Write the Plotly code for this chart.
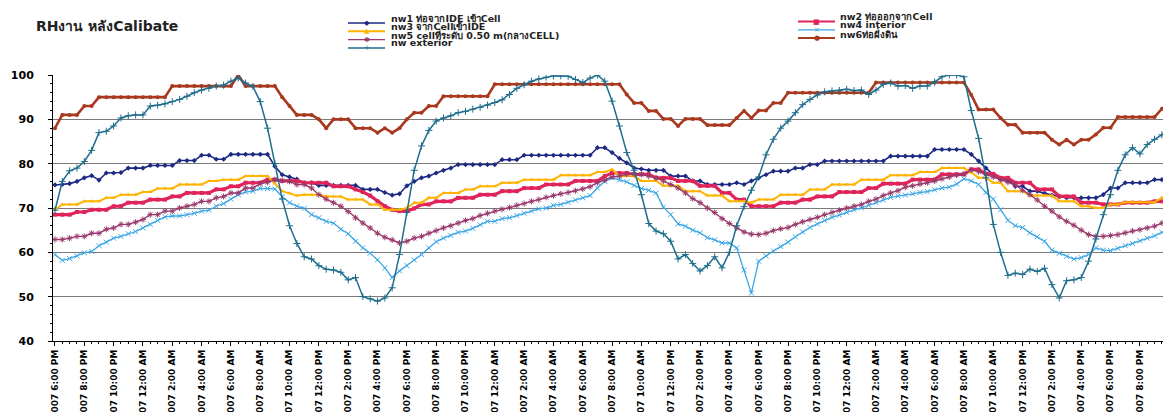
import plotly.graph_objects as go

# ------------------------------------------------------------
# DATA  (half-hourly readings, a label every 4th point)
# ------------------------------------------------------------
x_idx = list(range(153))
tick_pos = list(range(0, 153, 4))
tick_text = [
    "6/13/2007 6:00 PM", "6/13/2007 8:00 PM", "6/13/2007 10:00 PM",
    "6/14/2007 12:00 AM", "6/14/2007 2:00 AM", "6/14/2007 4:00 AM", "6/14/2007 6:00 AM",
    "6/14/2007 8:00 AM", "6/14/2007 10:00 AM", "6/14/2007 12:00 PM", "6/14/2007 2:00 PM",
    "6/14/2007 4:00 PM", "6/14/2007 6:00 PM", "6/14/2007 8:00 PM", "6/14/2007 10:00 PM",
    "6/15/2007 12:00 AM", "6/15/2007 2:00 AM", "6/15/2007 4:00 AM", "6/15/2007 6:00 AM",
    "6/15/2007 8:00 AM", "6/15/2007 10:00 AM", "6/15/2007 12:00 PM", "6/15/2007 2:00 PM",
    "6/15/2007 4:00 PM", "6/15/2007 6:00 PM", "6/15/2007 8:00 PM", "6/15/2007 10:00 PM",
    "6/16/2007 12:00 AM", "6/16/2007 2:00 AM", "6/16/2007 4:00 AM", "6/16/2007 6:00 AM",
    "6/16/2007 8:00 AM", "6/16/2007 10:00 AM", "6/16/2007 12:00 PM", "6/16/2007 2:00 PM",
    "6/16/2007 4:00 PM", "6/16/2007 6:00 PM", "6/16/2007 8:00 PM", "6/16/2007 10:00 PM",
]

nw1 = [
    75.2, 75.3, 75.5, 76.0, 76.8, 77.3, 76.3, 77.9, 77.9, 78.0,
    79.0, 79.0, 79.0, 79.6, 79.6, 79.6, 79.6, 80.7, 80.7, 80.7,
    81.9, 81.9, 81.0, 81.0, 82.1, 82.1, 82.1, 82.1, 82.1, 82.1,
    79.4, 77.5, 77.0, 76.5, 75.7, 75.7, 75.1, 75.1, 75.1, 75.1,
    75.1, 75.1, 74.2, 74.2, 74.2, 73.5, 72.9, 73.2, 75.0, 76.0,
    76.8, 77.2, 77.9, 78.5, 79.0, 79.8, 79.8, 79.8, 79.8, 79.8,
    79.8, 80.9, 80.9, 80.9, 81.9, 81.9, 81.9, 81.9, 81.9, 81.9,
    81.9, 81.9, 81.9, 81.9, 83.6, 83.6, 82.5, 81.2, 80.2, 79.0,
    78.8, 78.5, 78.5, 78.5, 77.2, 77.2, 77.2, 76.1, 76.1, 75.3,
    75.3, 75.3, 75.3, 75.7, 75.3, 76.1, 76.8, 77.5, 78.3, 78.3,
    78.3, 79.0, 79.0, 79.8, 79.8, 80.6, 80.6, 80.6, 80.6, 80.6,
    80.6, 80.6, 80.6, 80.6, 81.7, 81.7, 81.7, 81.7, 81.7, 81.7,
    83.2, 83.2, 83.2, 83.2, 83.2, 82.1, 80.6, 79.0, 77.5, 76.4,
    76.4, 74.9, 74.9, 73.8, 73.8, 73.3, 72.9, 72.6, 72.3, 72.3,
    72.3, 72.3, 72.3, 73.0, 74.5, 74.5, 75.7, 75.7, 75.7, 75.7,
    76.4, 76.4, 76.4,
]

nw2 = [
    68.5, 68.5, 68.5, 69.1, 69.1, 69.6, 69.6, 69.6, 70.4, 70.4,
    71.2, 71.2, 71.2, 71.9, 71.9, 71.9, 72.6, 72.6, 73.4, 73.4,
    73.4, 73.4, 74.2, 74.2, 74.9, 74.9, 75.7, 75.7, 75.7, 76.4,
    76.4, 76.1, 76.1, 76.1, 75.7, 75.7, 75.7, 75.7, 74.9, 74.9,
    74.9, 74.2, 73.6, 72.8, 71.5, 70.4, 69.6, 69.3, 69.3, 69.9,
    70.8, 70.8, 71.5, 71.5, 71.5, 72.3, 72.3, 72.3, 73.0, 73.0,
    73.0, 73.8, 73.8, 73.8, 74.5, 74.5, 74.5, 75.3, 75.3, 75.3,
    75.3, 76.1, 76.1, 76.1, 76.1, 77.2, 77.9, 77.9, 77.9, 77.6,
    77.6, 77.6, 76.8, 76.8, 76.8, 76.1, 76.1, 76.1, 75.0, 75.0,
    75.0, 73.4, 73.4, 71.9, 71.9, 70.4, 70.4, 70.4, 70.4, 71.2,
    71.2, 71.2, 71.9, 71.9, 72.6, 72.6, 72.6, 73.6, 73.6, 73.6,
    73.6, 74.5, 74.5, 75.5, 75.5, 75.5, 75.5, 76.4, 76.4, 76.4,
    76.4, 77.6, 77.6, 77.6, 77.6, 78.7, 78.7, 77.7, 77.7, 76.8,
    76.8, 75.7, 75.7, 75.7, 74.2, 74.2, 74.2, 72.6, 72.6, 72.6,
    71.2, 71.2, 71.2, 70.8, 70.8, 70.8, 71.2, 71.2, 71.2, 71.2,
    71.5, 71.5, 71.5,
]

nw3 = [
    69.6, 70.8, 70.8, 70.8, 71.5, 71.5, 71.5, 72.3, 72.3, 73.0,
    73.0, 73.0, 73.6, 73.6, 74.4, 74.4, 74.4, 75.3, 75.3, 75.3,
    75.3, 76.1, 76.1, 76.4, 76.4, 76.4, 77.2, 77.2, 77.2, 77.2,
    75.5, 73.8, 73.3, 72.8, 73.0, 73.0, 73.0, 72.6, 72.6, 72.6,
    71.9, 71.9, 71.9, 70.8, 70.8, 69.6, 69.6, 69.6, 70.0, 71.2,
    71.2, 72.3, 72.3, 73.4, 73.4, 73.4, 74.2, 74.2, 74.9, 74.9,
    74.9, 75.7, 75.7, 75.7, 76.4, 76.4, 76.4, 76.4, 76.4, 77.4,
    77.4, 77.4, 77.4, 77.4, 78.1, 78.1, 78.7, 77.2, 77.2, 77.2,
    76.1, 76.1, 76.1, 75.0, 75.0, 75.0, 73.8, 73.8, 73.8, 72.8,
    72.8, 72.8, 71.5, 71.5, 71.5, 71.2, 71.9, 71.9, 71.9, 73.0,
    73.0, 73.0, 73.0, 74.2, 74.2, 74.2, 75.3, 75.3, 75.3, 75.3,
    76.4, 76.4, 76.4, 76.4, 77.4, 77.4, 77.4, 77.4, 78.1, 78.1,
    78.1, 79.0, 79.0, 79.0, 79.0, 78.0, 76.8, 76.8, 75.7, 75.7,
    73.8, 73.8, 73.8, 72.8, 72.8, 72.8, 72.8, 71.5, 71.5, 71.5,
    70.4, 70.4, 70.0, 70.0, 70.8, 70.8, 71.3, 71.3, 71.3, 71.3,
    71.3, 72.3, 72.3,
]

nw4 = [
    59.5, 58.2, 58.6, 59.2, 59.9, 60.2, 61.5, 62.3, 63.2, 63.6,
    64.2, 64.7, 65.5, 66.3, 67.2, 68.0, 68.2, 68.2, 68.5, 68.8,
    69.3, 69.5, 70.4, 71.0, 72.0, 73.0, 73.6, 73.8, 74.4, 74.4,
    74.3, 72.6, 71.2, 70.4, 69.9, 68.5, 67.8, 67.0, 66.6, 65.2,
    64.2, 62.5, 61.0, 59.8, 58.3, 56.5, 54.3, 55.8, 57.0, 58.3,
    59.5, 61.0, 62.4, 63.2, 63.8, 64.5, 64.8, 65.4, 66.2, 67.0,
    67.0, 67.6, 67.8, 68.3, 68.8, 69.3, 69.8, 70.0, 70.6, 70.8,
    71.3, 71.8, 72.3, 72.8, 74.5, 76.0, 76.8, 76.3, 75.9, 75.1,
    74.4, 74.0, 73.4, 70.2, 68.5, 66.4, 65.9, 65.0, 64.4, 63.3,
    62.8, 62.1, 62.1, 61.0, 56.0, 50.8, 58.0, 59.2, 60.3, 61.3,
    62.3, 63.5, 64.6, 65.6, 66.4, 67.2, 67.9, 68.4, 69.0, 69.6,
    70.0, 70.6, 71.2, 71.8, 72.4, 72.7, 72.9, 73.2, 73.5, 73.7,
    74.1, 74.5, 74.7, 75.4, 76.6, 76.1, 75.3, 73.5, 72.0, 69.6,
    67.2, 66.0, 65.6, 64.4, 63.5, 62.5, 60.5, 59.8, 59.1, 58.5,
    58.8, 59.5, 61.0, 60.5, 60.4, 60.9, 61.5, 62.0, 62.6, 63.2,
    63.7, 64.5, 65.4,
]

nw5 = [
    62.9, 62.9, 63.2, 63.6, 63.6, 64.3, 64.3, 65.2, 65.5, 66.3,
    66.3, 66.8, 67.4, 68.5, 68.5, 69.3, 69.3, 70.0, 70.4, 70.8,
    71.5, 71.5, 72.3, 72.6, 73.4, 73.4, 74.5, 74.5, 75.5, 75.8,
    76.4, 76.2, 76.0, 75.3, 75.3, 74.5, 73.0, 72.0, 71.2, 70.4,
    69.2, 67.8, 66.6, 65.5, 64.3, 63.4, 62.8, 62.1, 62.5, 63.2,
    63.6, 64.3, 64.9, 65.5, 66.0, 66.6, 67.2, 67.6, 68.3, 68.8,
    69.3, 69.7, 70.1, 70.6, 71.0, 71.5, 71.9, 72.4, 72.8, 73.2,
    73.5, 73.9, 74.3, 74.8, 75.7, 76.3, 77.0, 77.2, 77.6, 77.6,
    77.6, 77.2, 76.8, 76.1, 75.3, 74.5, 73.4, 72.1, 71.2, 70.0,
    69.0, 67.6, 66.5, 65.5, 64.6, 64.1, 64.0, 64.3, 64.9, 65.3,
    65.6, 66.3, 66.9, 67.4, 67.9, 68.5, 69.0, 69.5, 70.0, 70.4,
    70.8, 71.5, 72.0, 72.8, 73.4, 73.9, 74.7, 75.0, 75.4, 75.7,
    76.1, 76.6, 77.0, 77.4, 77.7, 78.6, 78.2, 77.6, 77.0, 76.4,
    75.8, 75.2, 74.0, 73.0, 71.8, 70.4, 69.3, 68.0, 67.0, 66.1,
    65.0, 64.0, 63.6, 63.6, 63.8, 64.0, 64.4, 64.8, 65.1, 65.5,
    65.9, 66.6, 67.1,
]

nw6 = [
    88.0, 91.0, 91.0, 91.0, 93.0, 93.0, 95.0, 95.0, 95.0, 95.0,
    95.0, 95.0, 95.0, 95.0, 95.0, 95.0, 97.5, 97.5, 97.5, 97.5,
    97.5, 97.5, 97.5, 97.5, 97.5, 100.0, 97.5, 97.5, 97.5, 97.5,
    97.5, 95.0, 93.0, 91.0, 91.0, 91.0, 90.0, 88.0, 90.0, 90.0,
    90.0, 88.0, 88.0, 88.0, 87.0, 88.0, 87.0, 88.0, 90.0, 91.5,
    91.5, 93.0, 93.0, 95.2, 95.2, 95.2, 95.2, 95.2, 95.2, 95.2,
    97.9, 97.9, 97.9, 97.9, 97.9, 97.9, 97.9, 97.9, 97.9, 97.9,
    97.9, 97.9, 97.9, 97.9, 97.9, 97.9, 97.9, 97.9, 95.6, 93.7,
    93.7, 91.9, 91.9, 90.1, 90.1, 88.5, 90.1, 90.1, 90.1, 88.7,
    88.7, 88.7, 88.7, 90.3, 91.9, 90.3, 92.0, 92.0, 93.7, 93.7,
    96.0, 96.0, 96.0, 96.0, 96.0, 96.0, 96.0, 96.0, 96.0, 96.0,
    96.0, 96.0, 98.3, 98.3, 98.3, 98.3, 98.3, 98.3, 98.3, 98.3,
    98.3, 98.3, 98.3, 98.3, 98.3, 95.5, 92.2, 92.2, 92.2, 90.3,
    88.8, 88.8, 87.0, 87.0, 87.0, 87.0, 85.4, 84.3, 85.4, 84.3,
    85.4, 85.4, 86.6, 88.1, 88.1, 90.5, 90.5, 90.5, 90.5, 90.5,
    90.5, 92.4, 92.4,
]

nw_ext = [
    69.5, 76.0, 78.4, 79.0, 80.5, 83.0, 87.0, 87.3, 88.5, 90.3,
    90.8, 91.0, 91.0, 93.0, 93.2, 93.5, 94.0, 94.5, 95.2, 96.0,
    96.6, 97.0, 97.5, 97.7, 98.6, 99.3, 98.2, 97.4, 94.0, 88.0,
    80.0, 72.0, 66.0, 62.0, 59.0, 58.5, 57.0, 56.2, 56.0, 55.5,
    53.8, 54.3, 50.0, 49.5, 49.0, 49.7, 52.0, 59.5, 69.0, 78.5,
    84.0, 87.5, 89.6, 90.3, 90.8, 91.5, 91.8, 92.3, 92.7, 93.2,
    93.8, 94.4, 95.6, 97.0, 97.8, 98.6, 99.1, 99.5, 99.8, 99.8,
    99.7, 99.0, 98.3, 99.3, 100.0, 98.6, 94.1, 88.5, 82.5, 78.5,
    73.0, 66.5, 64.8, 64.2, 62.5, 58.5, 59.5, 57.5, 55.8, 57.0,
    59.0, 56.5, 60.0, 66.0, 70.3, 74.0, 77.0, 82.0, 85.5, 88.0,
    89.6, 91.5, 93.3, 94.5, 95.5, 96.2, 96.4, 96.5, 96.8, 96.5,
    96.6, 95.6, 96.6, 97.9, 98.2, 97.5, 97.6, 97.0, 97.5, 97.5,
    98.4, 99.6, 100.0, 100.0, 99.6, 92.0, 85.7, 76.8, 66.3, 60.0,
    54.8, 55.3, 55.0, 56.2, 55.7, 56.4, 52.7, 49.7, 53.6, 53.8,
    54.3, 58.0, 63.0, 68.5, 73.0, 78.5, 82.0, 83.6, 82.2, 84.3,
    85.5, 86.5, 87.7,
]

# name, values, colour, line width, marker symbol, legend glyph
series = [
    ("nw1 ท่อจากIDE เข้าCell", nw1, "#1c2a84", 1.6, "diamond", "◆"),
    ("nw2 ท่อออกจากCell", nw2, "#e0245a", 3.2, "square", "■"),
    ("nw3 จากCellเข้าIDE", nw3, "#ffb300", 2.0, "triangle-up", "▲"),
    ("nw4 interior", nw4, "#3aa6e6", 1.3, "x-thin", "×"),
    ("nw5 cellที่ระดับ 0.50 m(กลางCELL)", nw5, "#9a3a6c", 1.4, "asterisk", "✱"),
    ("nw6ท่อฝั่งดิน", nw6, "#a8391f", 2.6, "circle", "●"),
    ("nw exterior", nw_ext, "#1e6d8c", 1.5, "cross-thin", "+"),
]

FONT = "DejaVu Sans, Liberation Sans, sans-serif"

fig = go.Figure()
for name, vals, col, lw, sym, _ in series:
    thin = sym.endswith("thin") or sym == "asterisk"
    fig.add_trace(go.Scatter(
        x=x_idx, y=vals, name=name, mode="lines+markers",
        line=dict(color=col, width=lw),
        marker=dict(symbol=sym, size=4 if not thin else 5, color=col,
                    line=dict(color=col, width=1 if thin else 0)),
    ))

# ---- axes ----
L, R, T, B = 45, 1, 67, 79
fig.update_layout(
    width=1171, height=412,
    margin=dict(l=L, r=R, t=T, b=B, autoexpand=False),
    paper_bgcolor="white", plot_bgcolor="white",
    showlegend=False,
    font=dict(family=FONT, color="black"),
)
fig.update_xaxes(
    automargin=False,
    range=[-0.27, 153.2],
    tickmode="array", tickvals=tick_pos, ticktext=tick_text,
    tickangle=-90, tickfont=dict(size=9, color="black", weight="bold"),
    showgrid=False, zeroline=False,
    showline=True, linecolor="black", linewidth=1,
    ticks="outside", ticklen=4, tickcolor="black",
    minor=dict(ticks="outside", dtick=1, tick0=0, ticklen=2, tickcolor="black"),
)
fig.update_yaxes(
    automargin=False,
    range=[40, 100], dtick=10, tick0=40,
    tickfont=dict(size=11, color="black", weight="bold"),
    ticklabelstandoff=12,
    showgrid=True, gridcolor="#7a7a7a", gridwidth=1, zeroline=False,
    showline=True, linecolor="black", linewidth=1,
    ticks="outside", ticklen=4, tickcolor="black",
    minor=dict(ticks="outside", dtick=2, ticklen=2, tickcolor="black", showgrid=False),
)

# ---- title + hand-built two-column legend (pixel positions) ----
pw, ph = 1171 - L - R, 412 - T - B
def px(x):
    return (x - L) / pw
def py(y):
    return (412 - B - y) / ph

fig.add_annotation(x=px(26), y=py(18), xref="paper", yref="paper",
                   text="<b>RHงาน หลังCalibate</b>", showarrow=False,
                   xanchor="left", yanchor="middle",
                   font=dict(size=14, color="#222222"))

left_rows = [0, 2, 4, 6]
right_rows = [1, 3, 5]
for col_rows, (x0, x1, xt, y0) in ((left_rows, (340, 377, 381, 15)),
                                   (right_rows, (790, 827, 830, 13.5))):
    for k, si in enumerate(col_rows):
        name, _, col, lw, _, glyph = series[si]
        yy = y0 + k * 8.3
        fig.add_shape(type="line", xref="paper", yref="paper",
                      x0=px(x0), x1=px(x1), y0=py(yy), y1=py(yy),
                      line=dict(color=col, width=min(lw, 2)))
        fig.add_annotation(x=px((x0 + x1) / 2), y=py(yy), xref="paper", yref="paper",
                           text=glyph, showarrow=False, font=dict(size=7, color=col),
                           xanchor="center", yanchor="middle")
        fig.add_annotation(x=px(xt), y=py(yy - 5), xref="paper", yref="paper",
                           text="<b>" + name + "</b>", showarrow=False,
                           xanchor="left", yanchor="middle",
                           font=dict(size=9.5, color="#222222"))

fig.write_html("out.html")
